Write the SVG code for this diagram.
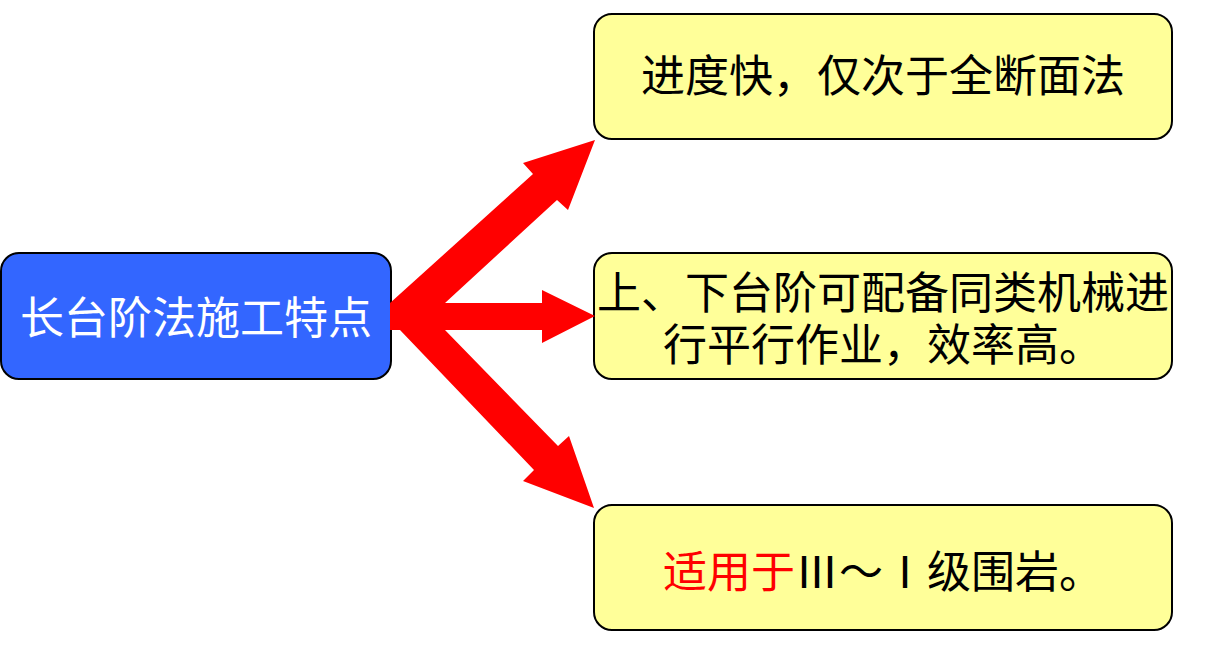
<svg xmlns="http://www.w3.org/2000/svg" width="1206" height="659" viewBox="0 0 1206 659">
<style>
.box{stroke:#000;stroke-width:2}
.src{fill:#3366FF}
.dst{fill:#FFFF99}
.t{font-family:"Noto Sans CJK SC","Noto Sans",sans-serif;font-size:44px;text-anchor:middle}
.w{fill:#fff}
.k{fill:#000}
.r{fill:#FF0000}
.arrow{fill:#FF0000;stroke:none}
</style>
<rect width="1206" height="659" fill="#fff"/>
<g id="node-main">
<rect class="box src" x="1" y="253" width="390" height="126" rx="18"/>
<text class="t w" x="196" y="334">长台阶法施工特点</text>
</g>
<g id="node-speed">
<rect class="box dst" x="594" y="14" width="578" height="125" rx="18"/>
<text class="t k" x="883" y="92">进度快，仅次于全断面法</text>
</g>
<g id="node-parallel">
<rect class="box dst" x="594" y="253" width="578" height="126" rx="18"/>
<text class="t k" x="883" y="309">上、下台阶可配备同类机械进</text>
<text class="t k" x="883" y="361">行平行作业，效率高。</text>
</g>
<g id="node-rock">
<rect class="box dst" x="594" y="505" width="578" height="125" rx="18"/>
<text class="t k" x="883" y="588"><tspan class="r">适用于</tspan>Ⅲ～Ⅰ级围岩。</text>
</g>
<g id="connectors">
<polygon class="arrow" points="390,303 533,174 523,163 595,140 568,210 557,200 445,303 542,303 542,290 595,316 542,343 542,330 445,330 558,446 569,436 594,508 523,481 534,470 400,330 390,330"/>
</g>
</svg>
